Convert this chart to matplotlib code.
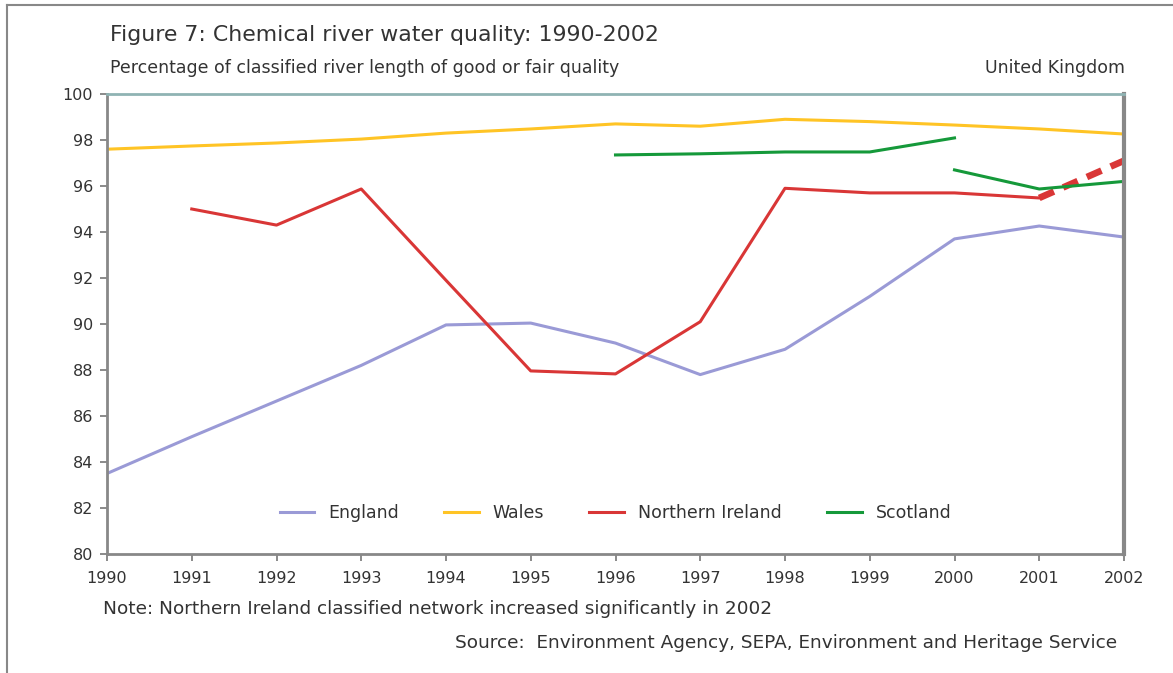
import matplotlib.pyplot as plt
from matplotlib.lines import Line2D

plt.rcParams['font.family'] = ['DejaVu Sans']

years = list(range(1990, 2003))
england = [83.5, 85.1, 86.65, 88.2, 89.96, 90.04, 89.17, 87.8, 88.9, 91.2, 93.7, 94.26, 93.78]
wales = [97.6, 97.74, 97.87, 98.04, 98.3, 98.48, 98.7, 98.6, 98.9, 98.8, 98.65, 98.48, 98.26]
ni_years = list(range(1991, 2002))
ni = [95.0, 94.3, 95.87, 91.9, 87.96, 87.83, 90.1, 95.9, 95.7, 95.7, 95.48]
ni_new_years = [2001, 2002]
ni_new = [95.48, 97.1]
scot_years = [1996, 1997, 1998, 1999, 2000]
scot = [97.35, 97.4, 97.48, 97.48, 98.09]
scot_new_years = [2000, 2001, 2002]
scot_new = [96.7, 95.87, 96.2]

c_eng = '#9a9ad6'
c_wal = '#ffc425'
c_ni = '#d93636'
c_sco = '#15993a'
txt = '#333333'

fig = plt.figure(figsize=(11.73, 6.73), dpi=100)
ax = fig.add_axes([107 / 1173, 1 - 554 / 673, 1017 / 1173, 460 / 673])

ax.plot(years, england, color=c_eng, lw=2.2, label='England')
ax.plot(years, wales, color=c_wal, lw=2.2, label='Wales')
ax.plot(ni_years, ni, color=c_ni, lw=2.2, label='Northern Ireland')
# 2002: classified network changed, shown dashed
ax.plot(ni_new_years, ni_new, color=c_ni, lw=4.8, ls=(0, (2.4, 1.5)))
ax.plot(scot_years, scot, color=c_sco, lw=2.2, label='Scotland')
ax.plot(scot_new_years, scot_new, color=c_sco, lw=2.2)

ax.set_xlim(1990, 2002)
ax.set_ylim(80, 100)
ax.set_xticks(years)
ax.set_yticks(range(80, 101, 2))
ax.tick_params(labelsize=11.5, labelcolor=txt, color='#777777', length=5, width=1.2)
ax.tick_params(axis='x', pad=7)
ax.tick_params(axis='y', pad=5)

for s in ['left', 'bottom']:
    ax.spines[s].set_color('#888888')
    ax.spines[s].set_linewidth(2)
ax.spines['top'].set_color('#8fb3b3')
ax.spines['top'].set_linewidth(2)
ax.spines['right'].set_color('#888888')
ax.spines['right'].set_linewidth(3)

ax.legend(loc='center', bbox_to_anchor=(0.5, 0.09), ncol=4, frameon=False,
          fontsize=12.5, handlelength=2.0, handletextpad=0.8, columnspacing=2.6, labelcolor=txt)

fig.text(110 / 1173, 1 - 35 / 673, 'Figure 7: Chemical river water quality: 1990-2002',
         fontsize=15.8, color=txt, va='center')
fig.text(110 / 1173, 1 - 68 / 673, 'Percentage of classified river length of good or fair quality',
         fontsize=12.5, color=txt, va='center')
fig.text(1125 / 1173, 1 - 68 / 673, 'United Kingdom', fontsize=12.5, color=txt, va='center', ha='right')
fig.text(103 / 1173, 1 - 609 / 673, 'Note: Northern Ireland classified network increased significantly in 2002',
         fontsize=13.3, color=txt, va='center')
fig.text(1117 / 1173, 1 - 643 / 673, 'Source:  Environment Agency, SEPA, Environment and Heritage Service',
         fontsize=13.3, color=txt, va='center', ha='right')

# outer frame (left and top)
fig.add_artist(Line2D([7 / 1173, 7 / 1173], [0, 1 - 5 / 673], color='#888888', lw=1.5))
fig.add_artist(Line2D([7 / 1173, 1], [1 - 5 / 673, 1 - 5 / 673], color='#888888', lw=1.5))

fig.savefig('out.png', dpi=100)
